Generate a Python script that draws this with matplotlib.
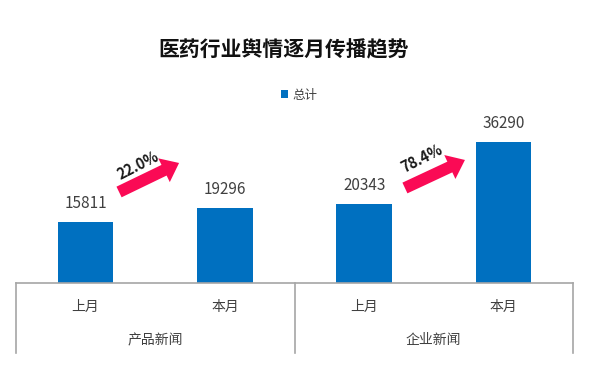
import matplotlib.pyplot as plt
from matplotlib.transforms import blended_transform_factory

plt.rcParams['font.family'] = ['Noto Sans CJK SC', 'DejaVu Sans']

months = ["上月", "本月", "上月", "本月"]
groups = ["产品新闻", "企业新闻"]
totals = [15811, 19296, 20343, 36290]
growth = ["22.0%", "78.4%"]

BLUE = "#0070C0"
RED = "#FA0A55"
GRAY = "#A6A6A6"
TXT = "#404040"

fig = plt.figure(figsize=(5.98, 3.78), dpi=100)
fig.patch.set_facecolor("white")
ax = fig.add_axes([16 / 598, 95 / 378, 557 / 598, 178 / 378])

x = list(range(len(totals)))
bars = ax.bar(x, totals, width=0.4, color=BLUE, label="总计", zorder=2)
for xi, v in zip(x, totals):
    ax.text(xi, v + 2600, str(v), ha="center", va="bottom", fontsize=11, color=TXT)

ax.set_xlim(-0.5, len(totals) - 0.5)
ax.set_ylim(0, 45900)
ax.set_yticks([])
ax.set_xticks([])
for s in ["top", "right", "left"]:
    ax.spines[s].set_visible(False)
ax.spines["bottom"].set_color(GRAY)
ax.spines["bottom"].set_linewidth(1.2)

# two-level category axis
tr = blended_transform_factory(ax.transData, ax.transAxes)
for xb in [-0.5, 1.5, 3.5]:
    ax.plot([xb, xb], [0, -0.395], transform=tr, color=GRAY, lw=1.2, clip_on=False)
for xi, m in zip(x, months):
    ax.text(xi, -0.135, m, transform=tr, ha="center", va="center", fontsize=10, color=TXT)
for gi, g in enumerate(groups):
    ax.text(gi * 2 + 0.5, -0.32, g, transform=tr, ha="center", va="center", fontsize=10, color=TXT)

# growth arrows
arrows = [((0.24, 23470), (0.671, 30950), (0.376, 30440)),
          ((2.293, 24500), (2.724, 31730), (2.416, 32240))]
for (tail, tip, tpos), g in zip(arrows, growth):
    ax.annotate("", xy=tip, xytext=tail,
                arrowprops=dict(arrowstyle="simple,head_width=19,head_length=12,tail_width=8.5",
                                mutation_scale=1, color=RED, shrinkA=0, shrinkB=0, lw=0))
    ax.text(tpos[0], tpos[1], g, rotation=27, ha="center", va="center",
            fontsize=10.5, fontweight="bold", color="#1A1A1A")

fig.text(284 / 598, 1 - 50 / 378, "医药行业舆情逐月传播趋势", ha="center", va="center",
         fontsize=15, fontweight="bold", color="#111111")
fig.legend(handles=[bars], labels=["总计"], loc="center", bbox_to_anchor=(299 / 598, 1 - 95 / 378),
           frameon=False, fontsize=9, handlelength=0.6, handleheight=0.6, handletextpad=0.3,
           labelcolor=TXT)

fig.savefig("out.png", dpi=100)
